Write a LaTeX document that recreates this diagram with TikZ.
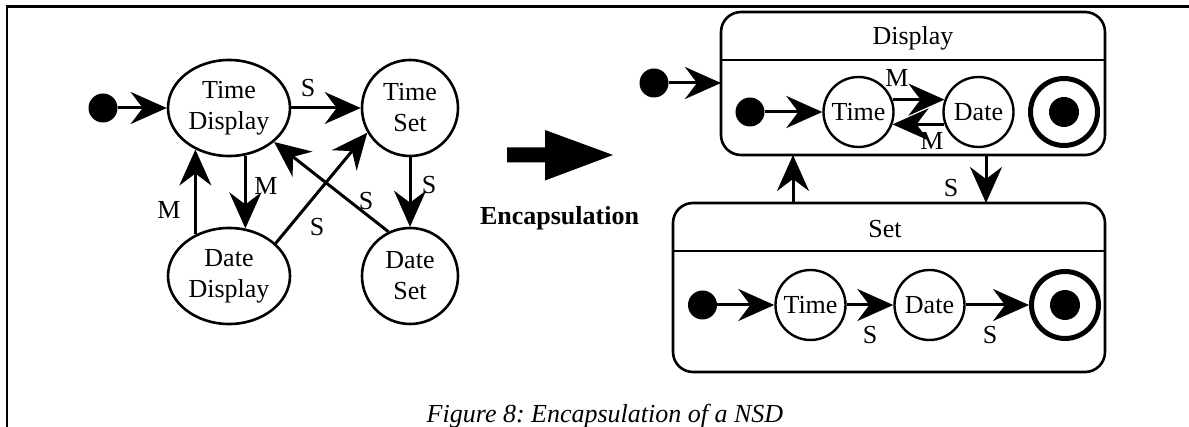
\documentclass[tikz,border=0pt]{standalone}
\usepackage{fontspec}
\setmainfont{Liberation Serif}
\usetikzlibrary{arrows.meta,shapes.geometric}

\begin{document}
\frenchspacing
\begin{tikzpicture}[x=1pt,y=-1pt,
  every node/.style={inner sep=0pt, font=\fontsize{26}{31}\selectfont},
  st/.style={draw, line width=2.6pt, ellipse, minimum width=122pt, minimum height=96pt, align=center},
  stc/.style={draw, line width=2.6pt, circle, minimum size=96pt, align=center},
  sub/.style={draw, line width=2.4pt, circle, minimum size=70pt},
  init/.style={fill, circle, minimum size=29pt},
  fin/.style={draw, line width=5pt, circle, minimum size=67pt},
  findot/.style={fill, circle, minimum size=30pt},
  cbox/.style={draw, line width=2.6pt, rounded corners=20pt, rectangle, outer sep=0pt},
  tr/.style={line width=3pt, -{Stealth[length=36pt,width=32pt,inset=12pt]}},
  lbl/.style={}
]
\useasboundingbox (0,0) rectangle (1189,427);

% frame
\draw[line width=2.7pt] (1200,6.5) -- (7,6.5) -- (7,440);

% ---------- flat state diagram ----------
\node[init] (i0) at (103,108) {};
\node[st]  (TD) at (229,108) {Time\\Display};
\node[stc] (TS) at (410,108) {Time\\Set};
\node[st]  (DD) at (229,276) {Date\\Display};
\node[stc] (DS) at (410,276) {Date\\Set};

\draw[tr] (i0) -- (TD);
\draw[tr] (TD) -- (TS);
\draw[tr] (TD.-71) -- (DD.71);
\draw[tr] (DD.129) -- (TD.-129);
\draw[tr] (TS) -- (DS);
\draw[tr] (DD.35) -- (TS.210);
\draw[tr] (DS.116) -- (TD.-37);

\node[lbl] (l1) at (308,88) {S};
\node[lbl] (l2) at (266,186) {M};
\node[lbl] (l3) at (169,210) {M};
\node[lbl] (l4) at (317,227) {S};
\node[lbl] (l5) at (366,201) {S};
\node[lbl] (l6) at (429,185) {S};

% ---------- block arrow ----------
\fill (507,147.5) -- (545,147.5) -- (545,130) -- (613,155) -- (545,180.5) -- (545,162.5) -- (507,162.5) -- cycle;
\node[anchor=base, font=\fontsize{26}{31}\selectfont\bfseries] (enc) at (559.5,225) {Encapsulation};

% ---------- Display superstate ----------
\node[cbox, minimum width=384pt, minimum height=143pt] (disp) at (913,83.5) {};
\coordinate (dv) at (0,60);
\draw[line width=2.6pt] (disp.west |- dv) -- (disp.east |- dv);
\node (dtitle) at (913,38) {Display};

\node[init] (od) at (654,83) {};
\draw[tr] (od) -- (od -| disp.west);

\node[init] (d1) at (750,112) {};
\node[sub] (t1) at (858.5,112) {Time};
\node[sub] (a1) at (978.5,112) {Date};
\node[fin] (f1) at (1064,112) {};
\node[findot] (f1d) at (1064,112) {};
\draw[tr] (d1) -- (t1);
\draw[tr] (t1.20) -- (a1.160);
\draw[tr] (a1.200) -- (t1.-20);
\node[lbl] (m1) at (897,78) {M};
\node[lbl] (m2) at (932,141) {M};

% ---------- Set superstate ----------
\node[cbox, minimum width=432pt, minimum height=169pt] (setb) at (889,287.5) {};
\coordinate (sv) at (0,251);
\draw[line width=2.6pt] (setb.west |- sv) -- (setb.east |- sv);
\node (stitle) at (885,229) {Set};

\node[init] (d2) at (702.5,305) {};
\node[sub] (t2) at (810.5,305) {Time};
\node[sub] (a2) at (929.5,305) {Date};
\node[fin] (f2) at (1065,305) {};
\node[findot] (f2d) at (1065,305) {};
\draw[tr] (d2) -- (t2);
\draw[tr] (t2) -- (a2);
\draw[tr] (a2) -- (f2);
\node[lbl] (s1) at (870,335) {S};
\node[lbl] (s2) at (990,335) {S};

% ---------- transitions between superstates ----------
\coordinate (xu) at (793,0);
\coordinate (xd) at (986,0);
\draw[tr] (setb.north -| xu) -- (disp.south -| xu);
\draw[tr] (disp.south -| xd) -- (setb.north -| xd);
\node[lbl] (s3) at (951,188) {S};

% caption
\node[anchor=base, font=\fontsize{26}{31}\selectfont\itshape] (cap) at (605,423) {Figure 8: Encapsulation of a NSD};
\end{tikzpicture}
\end{document}
